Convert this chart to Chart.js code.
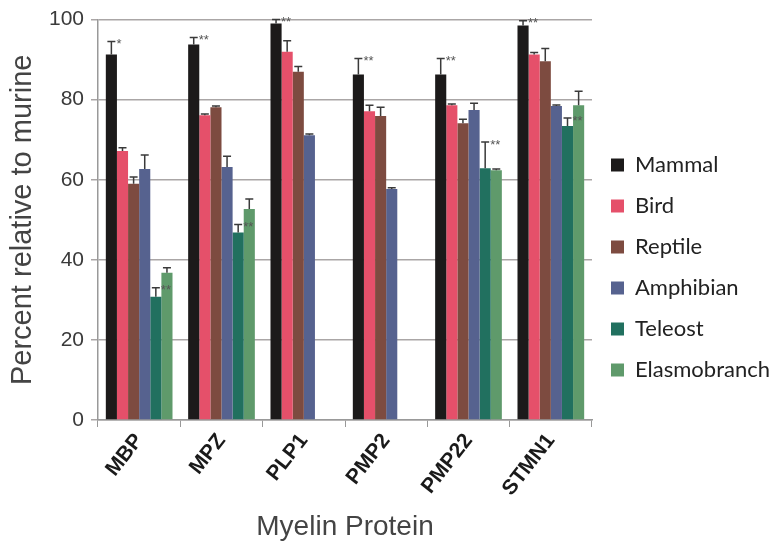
<!DOCTYPE html>
<html lang="en">
<head>
<meta charset="UTF-8">
<title>Myelin Protein</title>
<script src="https://cdn.jsdelivr.net/npm/chart.js@4.4.1/dist/chart.umd.min.js"></script>
<style>
  html, body { margin: 0; padding: 0; background: #fff; }
  #wrap { width: 773px; height: 551px; }
</style>
</head>
<body>
<div id="wrap"><canvas id="chart-area" width="773" height="551"></canvas></div>
<script>
// categories and series
var proteins = ['MBP', 'MPZ', 'PLP1', 'PMP2', 'PMP22', 'STMN1'];
var groups = ['Mammal', 'Bird', 'Reptile', 'Amphibian', 'Teleost', 'Elasmobranch'];
var colors = ['#1c1a1a', '#e5506a', '#7d4b40', '#56628f', '#21705f', '#5f9a6b'];

var mammal       = [91.3, 93.8, 99.0, 86.3, 86.3, 98.5];
var bird         = [67.2, 76.1, 92.0, 77.1, 78.6, 91.3];
var reptile      = [59.0, 78.1, 87.0, 75.9, 74.1, 89.6];
var amphibian    = [62.7, 63.2, 71.1, 57.7, 77.4, 78.4];
var teleost      = [30.8, 46.8, null, null, 62.9, 73.4];
var elasmobranch = [36.8, 52.7, null, null, 62.4, 78.6];

// error bar sizes (upper whisker only)
var mammalErr       = [3.2, 1.7, 1.0, 4.0, 4.0, 1.2];
var birdErr         = [0.8, 0.3, 2.7, 1.5, 0.3, 0.5];
var reptileErr      = [1.7, 0.3, 1.3, 2.2, 1.0, 3.2];
var amphibianErr    = [3.5, 2.7, 0.3, 0.3, 1.7, 0.3];
var teleostErr      = [2.2, 2.0, null, null, 6.5, 2.0];
var elasmobranchErr = [1.2, 2.5, null, null, 0.3, 3.5];

// significance marks
var mammalSig  = ['*', '**', '**', '**', '**', '**'];
var teleostSig = ['**', '**', null, null, '**', '**'];

var series = [mammal, bird, reptile, amphibian, teleost, elasmobranch];
var errs = [mammalErr, birdErr, reptileErr, amphibianErr, teleostErr, elasmobranchErr];
var sigs = [mammalSig, null, null, null, teleostSig, null];

var datasets = groups.map(function (g, i) {
  return {
    label: g,
    data: series[i],
    err: errs[i],
    sig: sigs[i],
    backgroundColor: colors[i],
    borderWidth: 0,
    categoryPercentage: 0.81,
    barPercentage: 1.0
  };
});

var errorBars = {
  id: 'errorBars',
  afterDatasetsDraw: function (chart) {
    var ctx = chart.ctx;
    var y = chart.scales.y;
    ctx.save();
    chart.data.datasets.forEach(function (ds, di) {
      var meta = chart.getDatasetMeta(di);
      meta.data.forEach(function (bar, i) {
        var v = ds.data[i];
        if (v == null) return;
        var e = ds.err[i] || 0;
        var top = y.getPixelForValue(v + e);
        ctx.strokeStyle = '#3a3a3a';
        ctx.lineWidth = 1.5;
        ctx.beginPath();
        ctx.moveTo(bar.x, bar.y);
        ctx.lineTo(bar.x, top);
        ctx.moveTo(bar.x - 4, top);
        ctx.lineTo(bar.x + 4, top);
        ctx.stroke();
        if (ds.sig && ds.sig[i]) {
          ctx.fillStyle = '#555';
          ctx.font = '13px "Liberation Sans", Arial, sans-serif';
          ctx.textAlign = 'left';
          ctx.textBaseline = 'middle';
          ctx.fillText(ds.sig[i], bar.x + 5, top + 3);
        }
      });
    });
    ctx.restore();
  }
};

var config = {
  type: 'bar',
  data: { labels: proteins, datasets: datasets },
  plugins: [errorBars],
  options: {
    responsive: false,
    animation: false,
    layout: { padding: { top: 10, right: 0, bottom: 0, left: 6 } },
    plugins: {
      tooltip: { enabled: false },
      legend: {
        position: 'right',
        align: 'start',
        maxWidth: 181,
        title: {
          display: true,
          text: ' ',
          font: { size: 10 },
          padding: { top: 113, bottom: 0 }
        },
        labels: {
          boxWidth: 13,
          boxHeight: 13,
          padding: 19,
          color: '#222',
          font: { family: 'Lato, sans-serif', size: 22 }
        }
      }
    },
    scales: {
      x: {
        afterFit: function (scale) { scale.height = 131; },
        grid: { display: true, drawOnChartArea: false, drawTicks: true, tickLength: 7, color: '#999' },
        border: { color: '#999', width: 1.5 },
        ticks: {
          minRotation: 52,
          maxRotation: 52,
          color: '#1a1a1a',
          padding: 2,
          font: { family: '"Liberation Sans", Arial, sans-serif', size: 21, weight: 'bold' }
        },
        title: {
          display: true,
          text: 'Myelin Protein',
          color: '#444',
          padding: { top: 0, bottom: 7 },
          font: { family: '"Liberation Sans", Arial, sans-serif', size: 28 }
        }
      },
      y: {
        min: 0,
        max: 100,
        afterFit: function (scale) { scale.width = 92; },
        grid: { color: '#aaa6a6', lineWidth: 1.5, tickLength: 7 },
        border: { color: '#999', width: 1.5 },
        ticks: {
          stepSize: 20,
          color: '#3a3a3a',
          padding: 7,
          font: { family: '"Liberation Sans", Arial, sans-serif', size: 21 }
        },
        title: {
          display: true,
          text: 'Percent relative to murine',
          color: '#444',
          padding: { top: 0, bottom: 0 },
          font: { family: '"Liberation Sans", Arial, sans-serif', size: 29 }
        }
      }
    }
  }
};

var ctx = document.getElementById('chart-area').getContext('2d');
window.myBar = new Chart(ctx, config);
</script>
</body>
</html>
